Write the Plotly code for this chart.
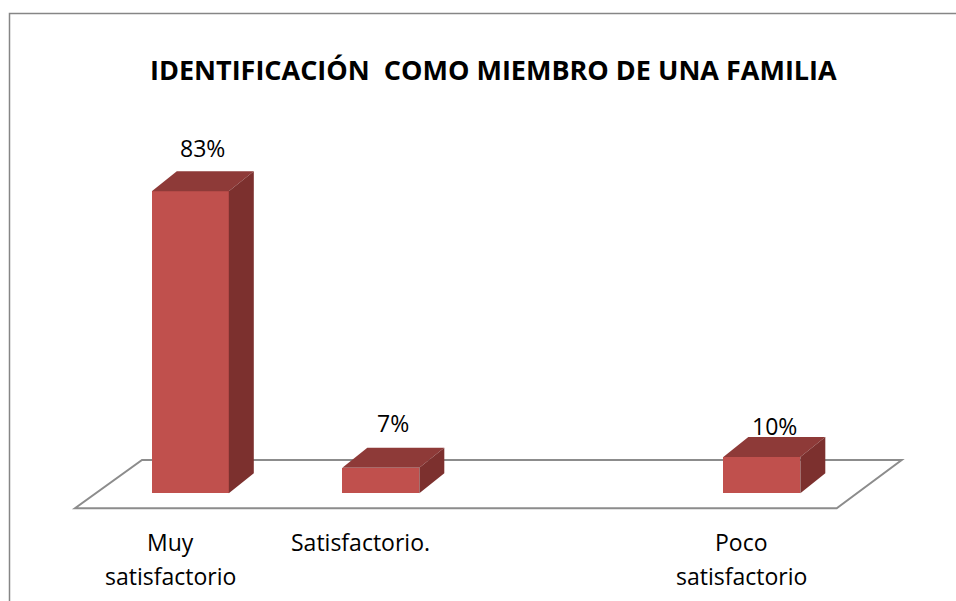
import plotly.graph_objects as go

# ---------------- data ----------------
categories = ["Muy\nsatisfactorio", "Satisfactorio.", "", "Poco\nsatisfactorio"]
values = [83, 7, None, 10]
value_labels = ["83%", "7%", "", "10%"]
title_text = "IDENTIFICACIÓN  COMO MIEMBRO DE UNA FAMILIA"

# ---------------- geometry / style ----------------
W, H = 956, 601
PX_PER_X, X0_PX = 190.5, 190.3      # pixel scale of category axis
PX_PER_Y, Y0_PX = 3.639, 493.3      # pixel scale of value axis
x_range = [-X0_PX / PX_PER_X, (W - X0_PX) / PX_PER_X]
y_range = [-(H - Y0_PX) / PX_PER_Y, Y0_PX / PX_PER_Y]

bar_w = 77 / PX_PER_X
dx = 25 / PX_PER_X
dy = 20 / PX_PER_Y

FRONT = "#C0504D"
TOP = "#8E3A38"
SIDE = "#7C302E"
FONT = "Open Sans"

label_yshift = [23, 25, 0, 11]

xs = [i for i, v in enumerate(values) if v is not None]
ys = [v for v in values if v is not None]

fig = go.Figure()
fig.add_trace(go.Bar(
    x=xs, y=ys, width=bar_w,
    marker=dict(color=FRONT, line=dict(width=0)),
    hoverinfo="skip", showlegend=False,
))

shapes = []
# floor
fy_front = -15 / PX_PER_Y
fy_back = 33.3 / PX_PER_Y
fl = dict(
    fl_x=(75 - X0_PX) / PX_PER_X, fr_x=(836.7 - X0_PX) / PX_PER_X,
    bl_x=(142 - X0_PX) / PX_PER_X, br_x=(901.7 - X0_PX) / PX_PER_X,
)
shapes.append(dict(
    type="path", xref="x", yref="y", layer="below",
    path=(f"M {fl['fl_x']},{fy_front} L {fl['fr_x']},{fy_front} "
          f"L {fl['br_x']},{fy_back} L {fl['bl_x']},{fy_back} Z"),
    line=dict(color="#8C8C8C", width=2), fillcolor="white",
))

# 3D top and side faces derived from the bar values
for x, v in zip(xs, ys):
    l, r = x - bar_w / 2, x + bar_w / 2
    shapes.append(dict(
        type="path", xref="x", yref="y", layer="above",
        path=f"M {l},{v} L {l+dx},{v+dy} L {r+dx},{v+dy} L {r},{v} Z",
        line=dict(width=0), fillcolor=TOP,
    ))
    shapes.append(dict(
        type="path", xref="x", yref="y", layer="above",
        path=f"M {r},0 L {r+dx},{dy} L {r+dx},{v+dy} L {r},{v} Z",
        line=dict(width=0), fillcolor=SIDE,
    ))

# outer chart border
shapes.append(dict(
    type="rect", xref="paper", yref="paper",
    x0=9.5 / W, x1=1.2, y0=-0.2, y1=1 - 13.5 / H,
    line=dict(color="#868686", width=1.5), fillcolor="rgba(0,0,0,0)",
    layer="below",
))

annotations = []
annotations.append(dict(
    text=f"<b>{title_text}</b>", xref="paper", yref="paper",
    x=493.5 / W, y=1 - 69 / H, xanchor="center", yanchor="middle",
    showarrow=False, font=dict(family=FONT, size=27, color="black"),
))

for i, (v, lab) in enumerate(zip(values, value_labels)):
    if v is None:
        continue
    annotations.append(dict(
        text=lab, xref="x", yref="y", x=i + dx / 2, y=v + dy,
        xanchor="center", yanchor="middle", yshift=label_yshift[i],
        showarrow=False, font=dict(family=FONT, size=23, color="black"),
    ))

for i, cat in enumerate(categories):
    for j, line in enumerate(cat.split("\n")):
        if not line:
            continue
        annotations.append(dict(
            text=line, xref="x", yref="paper", x=i, y=1 - (542 + 34 * j) / H,
            xanchor="center", yanchor="middle", xshift=-20,
            showarrow=False, font=dict(family=FONT, size=23, color="black"),
        ))

fig.update_layout(
    width=W, height=H, autosize=False,
    margin=dict(l=0, r=0, t=0, b=0),
    paper_bgcolor="white", plot_bgcolor="white",
    xaxis=dict(range=x_range, visible=False, fixedrange=True),
    yaxis=dict(range=y_range, visible=False, fixedrange=True),
    shapes=shapes, annotations=annotations,
    bargap=0, showlegend=False,
)

fig.write_html(
    "out.html",
    config={"displayModeBar": False},
    post_script="document.body.style.margin='0';document.body.style.overflow='hidden';",
)
